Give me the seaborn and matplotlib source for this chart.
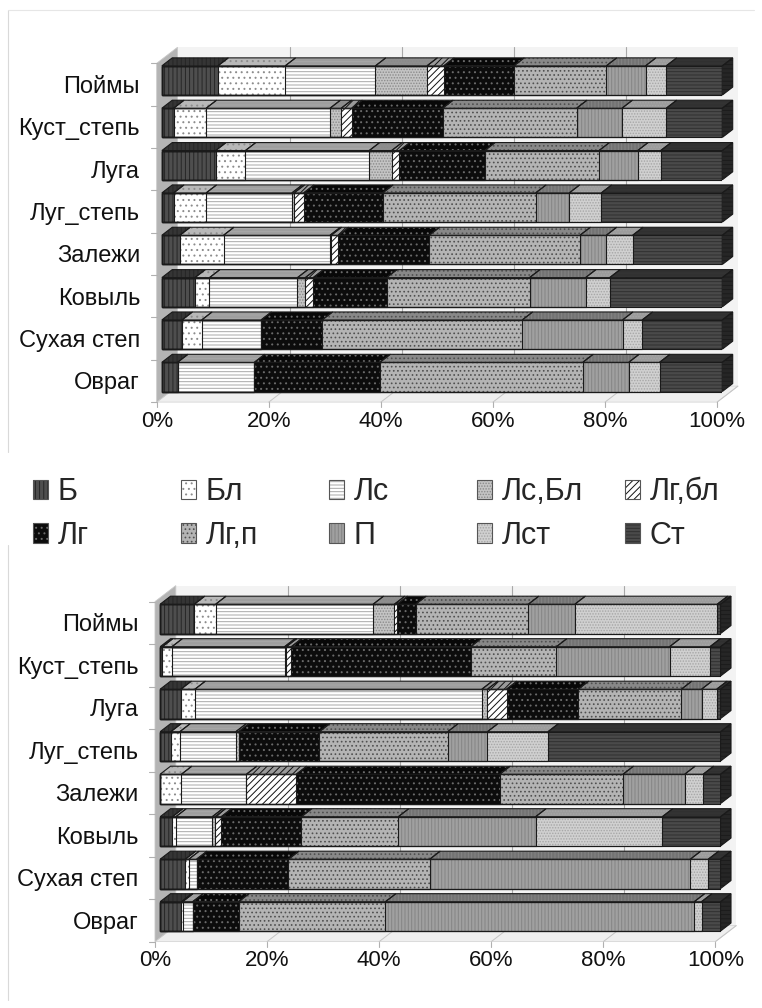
import matplotlib
matplotlib.use("Agg")
import matplotlib.pyplot as plt
import seaborn as sns
import numpy as np
from matplotlib.patches import Polygon, Patch
from matplotlib.lines import Line2D

sns.set_style("white")
plt.rcParams["font.family"] = ["Liberation Sans", "DejaVu Sans"]
plt.rcParams["hatch.linewidth"] = 0.7

sites = ["Поймы", "Куст_степь", "Луга", "Луг_степь", "Залежи",
         "Ковыль", "Сухая степ", "Овраг"]
groups = ["Б", "Бл", "Лс", "Лс,Бл", "Лг,бл", "Лг", "Лг,п", "П", "Лст", "Ст"]
tick_pct = [0, 20, 40, 60, 80, 100]

# Upper panel: share of each group (%) per site, in site order
up_b = [10.0, 2.1, 9.6, 2.1, 3.2, 5.9, 3.6, 2.8]
up_bl = [12.0, 5.8, 5.3, 5.8, 7.8, 2.6, 3.5, 0.0]
up_ls = [16.1, 22.1, 22.1, 15.3, 19.0, 15.7, 10.6, 13.7]
up_lsbl = [9.2, 2.0, 4.0, 0.4, 0.2, 1.4, 0.0, 0.0]
up_lgbl = [3.0, 1.9, 1.4, 1.7, 1.3, 1.4, 0.0, 0.0]
up_lg = [12.5, 16.2, 15.2, 14.1, 16.2, 13.1, 10.9, 22.4]
up_lgp = [16.5, 23.9, 20.4, 27.3, 26.9, 25.5, 35.7, 36.2]
up_p = [7.0, 8.1, 6.9, 6.0, 4.7, 10.0, 17.9, 8.2]
up_lst = [3.7, 7.9, 4.1, 5.7, 4.7, 4.3, 3.5, 5.5]
up_st = [10.0, 10.0, 11.0, 21.6, 16.0, 20.1, 14.3, 11.2]

# Lower panel
lo_b = [6.1, 0.4, 3.7, 1.9, 0.0, 2.2, 4.5, 3.8]
lo_bl = [3.8, 1.7, 2.5, 1.6, 3.8, 0.6, 0.6, 0.2]
lo_ls = [28.1, 20.1, 51.2, 10.0, 11.6, 6.5, 1.4, 1.8]
lo_lsbl = [3.8, 0.3, 1.0, 0.5, 0.0, 0.5, 0.0, 0.0]
lo_lgbl = [0.5, 0.9, 3.4, 0.0, 8.9, 1.1, 0.0, 0.0]
lo_lg = [3.3, 32.0, 12.8, 14.4, 36.3, 14.3, 16.4, 8.2]
lo_lgp = [20.1, 15.3, 18.4, 22.9, 22.0, 17.3, 25.2, 26.2]
lo_p = [8.3, 20.2, 3.6, 7.1, 11.0, 24.5, 46.5, 55.1]
lo_lst = [25.4, 7.2, 2.7, 10.8, 3.3, 22.6, 3.2, 1.3]
lo_st = [0.6, 1.9, 0.7, 30.8, 3.1, 10.4, 2.2, 3.4]

upper = [up_b, up_bl, up_ls, up_lsbl, up_lgbl, up_lg, up_lgp, up_p, up_lst, up_st]
lower = [lo_b, lo_bl, lo_ls, lo_lsbl, lo_lgbl, lo_lg, lo_lgp, lo_p, lo_lst, lo_st]

# Grey-scale fill patterns for every group
face = {"Б": "#4e4e4e", "Бл": "#ffffff", "Лс": "#ffffff", "Лс,Бл": "#c4c4c4",
        "Лг,бл": "#ffffff", "Лг": "#0c0c0c", "Лг,п": "#b4b4b4", "П": "#a0a0a0",
        "Лст": "#d0d0d0", "Ст": "#4a4a4a"}
hatch = {"Б": "||||", "Бл": "...", "Лс": "-----", "Лс,Бл": "......",
         "Лг,бл": "/////", "Лг": "...", "Лг,п": "....", "П": "|||||",
         "Лст": "......", "Ст": "-----"}
hcol = {"Б": "#262626", "Бл": "#8c8c8c", "Лс": "#a8a8a8", "Лс,Бл": "#8a8a8a",
        "Лг,бл": "#111111", "Лг": "#6a6a6a", "Лг,п": "#505050", "П": "#858585",
        "Лст": "#a6a6a6", "Ст": "#303030"}
topc = {"Б": "#353535", "Бл": "#b8b8b8", "Лс": "#9e9e9e", "Лс,Бл": "#8e8e8e",
        "Лг,бл": "#9a9a9a", "Лг": "#080808", "Лг,п": "#888888", "П": "#737373",
        "Лст": "#9c9c9c", "Ст": "#333333"}
EDGE = "#1a1a1a"
BAR_H = 0.69

W, H = 762, 1008
fig = plt.figure(figsize=(W / 100, H / 100), dpi=100)


def px_axes(left, right, top, bottom):
    return fig.add_axes([left / W, 1 - bottom / H, (right - left) / W, (bottom - top) / H])


def poly(ax, pts, **kw):
    p = Polygon(pts, closed=True, clip_on=False, transform=ax.transData, **kw)
    ax.add_patch(p)
    return p


def draw_panel(ax, shares, px_w, px_h):
    ux = 100.0 / px_w          # data units per pixel, horizontal
    uy = 1.0 / px_h            # category units per pixel, vertical (downwards)
    dpx, dpy = 10.5 * ux, -8 * uy      # bar depth
    flx, fly = -5.2 * ux, 4 * uy       # front edge of the floor
    bkx, bky = 15.8 * ux, -12 * uy     # back wall plane
    n = len(sites)
    y0, y1 = -0.5, n - 0.5

    # back wall, floor and side wall of the 3-D box
    poly(ax, [(bkx, y0 + bky), (100 + bkx, y0 + bky), (100 + bkx, y1 + bky), (bkx, y1 + bky)],
         facecolor="#f3f3f3", edgecolor="none", zorder=0.2)
    for t in tick_pct[1:-1]:
        ax.add_line(Line2D([t + bkx, t + bkx], [y0 + bky, y1 + bky], color="#a8a8a8",
                           lw=0.8, clip_on=False, zorder=0.3))
    poly(ax, [(flx, y1 + fly), (100 + flx, y1 + fly), (100 + bkx, y1 + bky), (bkx, y1 + bky)],
         facecolor="#efefef", edgecolor="#d6d6d6", lw=0.6, zorder=0.25)
    for t in tick_pct[1:]:
        ax.add_line(Line2D([t + flx, t + bkx], [y1 + fly, y1 + bky], color="#c4c4c4",
                           lw=0.7, clip_on=False, zorder=0.3))
    poly(ax, [(flx, y0 + fly), (flx, y1 + fly), (bkx, y1 + bky), (bkx, y0 + bky)],
         facecolor="#b4b4b4", edgecolor="#c8c8c8", lw=0.6, zorder=0.3)
    for k in range(n + 1):
        yk = k - 0.5 + fly
        ax.add_line(Line2D([flx - 6 * ux, flx], [yk, yk], color="#b0b0b0", lw=0.8,
                           clip_on=False, zorder=0.3))
    for t in tick_pct:
        ax.add_line(Line2D([t + flx, t + flx], [y1 + fly, y1 + fly + 5 * uy], color="#b0b0b0",
                           lw=0.8, clip_on=False, zorder=0.3))

    # stacked bars: cumulative totals drawn from the longest to the shortest
    cum = np.cumsum(np.array(shares), axis=0)
    bars = {}
    for j in range(len(groups) - 1, -1, -1):
        g = groups[j]
        before = len(ax.patches)
        sns.barplot(x=list(cum[j]), y=sites, order=sites, orient="h", ax=ax,
                    color=face[g], hatch=hatch[g], edgecolor=hcol[g], linewidth=0,
                    width=BAR_H, saturation=1, errorbar=None, zorder=1)
        bars[j] = ax.patches[before:]
    for j in range(len(groups) - 1, -1, -1):
        sns.barplot(x=list(cum[j]), y=sites, order=sites, orient="h", ax=ax,
                    color=EDGE, fill=False, linewidth=0.8, width=BAR_H,
                    errorbar=None, zorder=1.5)

    # top faces of the segments and the right-hand end faces
    for j, g in enumerate(groups):
        for i, rect in enumerate(bars[j]):
            yt = rect.get_y()
            xa = bars[j - 1][i].get_width() if j > 0 else 0.0
            xb = rect.get_width()
            if xb - xa <= 1e-9:
                continue
            pts = [(xa, yt), (xb, yt), (xb + dpx, yt + dpy), (xa + dpx, yt + dpy)]
            poly(ax, pts, facecolor=topc[g], hatch=hatch[g], edgecolor=hcol[g], lw=0, zorder=1.6)
            poly(ax, pts, fill=False, edgecolor=EDGE, lw=0.8, zorder=1.7)
            if j == len(groups) - 1:
                yb = yt + rect.get_height()
                side = [(xb, yt), (xb, yb), (xb + dpx, yb + dpy), (xb + dpx, yt + dpy)]
                poly(ax, side, facecolor="#262626", hatch="----", edgecolor="#1c1c1c", lw=0, zorder=1.6)
                poly(ax, side, fill=False, edgecolor=EDGE, lw=0.8, zorder=1.7)

    ax.set_xlim(0, 100)
    ax.set_ylim(y1, y0)
    ax.set_xlabel("")
    ax.set_ylabel("")
    ax.set_yticks([i + fly for i in range(n)], sites)
    ax.set_xticks([t + flx for t in tick_pct], [f"{t}%" for t in tick_pct])
    ax.tick_params(axis="y", length=0, pad=12, labelsize=17, colors="#111111")
    ax.tick_params(axis="x", length=0, pad=9, labelsize=16, colors="#111111")
    for s in ax.spines.values():
        s.set_visible(False)
    ax.patch.set_alpha(0)


ax_up = px_axes(156.7, 722.3, 59.3, 398.1)
draw_panel(ax_up, upper, 722.3 - 156.7, (398.1 - 59.3) / 8)
ax_lo = px_axes(155.0, 720.6, 597.6, 937.6)
draw_panel(ax_lo, lower, 720.6 - 155.0, (937.6 - 597.6) / 8)

# legend: five columns of two entries
col_x = [33, 181, 329, 477, 625]
for c in range(5):
    ent = [groups[c], groups[c + 5]]
    handles = [(Patch(facecolor=face[g], hatch=hatch[g], edgecolor=hcol[g], lw=0),
                Patch(fill=False, edgecolor="#555555", lw=0.8)) for g in ent]
    fig.legend(handles, ent, loc="upper left", bbox_to_anchor=(col_x[c] / W, 1 - 477 / H),
               frameon=False, fontsize=22, handlelength=0.5, handleheight=0.6,
               handletextpad=0.3, labelspacing=0.45, borderpad=0, borderaxespad=0)

# light frame lines around the two chart areas
fig.add_artist(Line2D([8 / W, 8 / W], [1 - 10 / H, 1 - 452 / H], color="#d9d9d9", lw=0.8))
fig.add_artist(Line2D([8 / W, 754 / W], [1 - 10 / H, 1 - 10 / H], color="#e6e6e6", lw=0.8))
fig.add_artist(Line2D([8 / W, 8 / W], [1 - 545 / H, 1 - 1000 / H], color="#d9d9d9", lw=0.8))

fig.savefig("out.png", dpi=100, facecolor="white")
